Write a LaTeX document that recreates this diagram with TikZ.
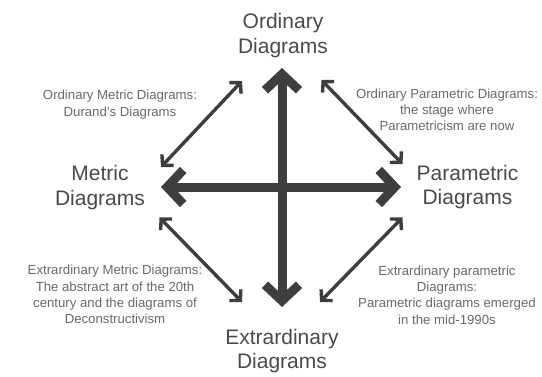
\documentclass[tikz,border=0pt]{standalone}
\usepackage{fontspec}
\setmainfont{Liberation Sans}
\usetikzlibrary{arrows.meta}
\definecolor{axisgray}{HTML}{3E3E3E}
\definecolor{titlegray}{HTML}{4A4A4A}
\definecolor{notegray}{HTML}{6A6A6A}
\begin{document}
\begin{tikzpicture}[x=1pt,y=-1pt,
  % base anchor sits on the last line's baseline
  title/.style={align=center,text=titlegray,font=\fontsize{21}{24.5}\selectfont,inner sep=0pt,anchor=base},
  note/.style={align=center,text=notegray,font=\fontsize{13.2}{16.2}\selectfont,inner sep=0pt,anchor=base},
  axis/.style={draw=axisgray,line width=9pt,
    {Straight Barb[length=16pt,width=34pt,sharp]}-{Straight Barb[length=16pt,width=34pt,sharp]}},
  link/.style={draw=axisgray,line width=3.4pt,
    {Straight Barb[length=7.5pt,width=16pt,sharp]}-{Straight Barb[length=7.5pt,width=16pt,sharp]}}]
  \useasboundingbox (0,0) rectangle (542,376);
  \fill[white] (0,0) rectangle (542,376);

  % the four corner titles
  \node[title] (ord) at (283,53) {Ordinary\\Diagrams};
  \node[title] (met) at (100,205) {Metric\\Diagrams};
  \node[title] (par) at (467.5,204.5) {Parametric\\Diagrams};
  \node[title] (ext) at (282,368.5) {Extrardinary\\Diagrams};

  % notes between neighbouring titles
  \node[note] (om) at (120,116) {Ordinary Metric Diagrams:\\Durand's Diagrams};
  \node[note] (op) at (447,130.5) {Ordinary Parametric Diagrams:\\the stage where\\Parametricism are now};
  \node[note] (em) at (115,323.5) {Extrardinary Metric Diagrams:\\The abstract art of the 20th\\century and the diagrams of\\Deconstructivism};
  \node[note] (ep) at (447,324) {Extrardinary parametric\\Diagrams:\\Parametric diagrams emerged\\in the mid-1990s};

  % end points of the arrows
  \coordinate (vt) at (282,68);
  \coordinate (vb) at (282,307);
  \coordinate (hl) at (161,187);
  \coordinate (hr) at (401,187);
  \coordinate (tl1) at (161,167);
  \coordinate (tl2) at (242,81);
  \coordinate (tr1) at (321.5,80);
  \coordinate (tr2) at (402.5,164);
  \coordinate (bl1) at (159.5,217.5);
  \coordinate (bl2) at (242,302);
  \coordinate (br1) at (402.5,217.5);
  \coordinate (br2) at (320,302);

  % main axes
  \draw[axis] (vb) -- (vt);
  \draw[axis] (hl) -- (hr);

  % diagonal links
  \draw[link] (tl1) -- (tl2);
  \draw[link] (tr1) -- (tr2);
  \draw[link] (bl1) -- (bl2);
  \draw[link] (br1) -- (br2);
\end{tikzpicture}
\end{document}
